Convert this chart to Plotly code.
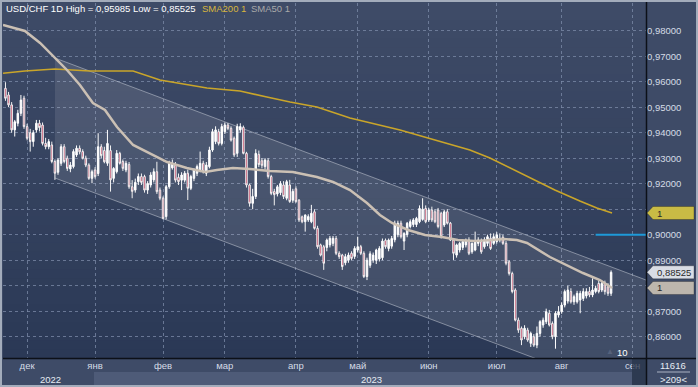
import plotly.graph_objects as go

# ---------------- DATA ----------------
opens = [0.9574,0.9548,0.9509,0.9411,0.9437,0.9476,0.9535,0.9424,0.9400,0.9365,
         0.9411,0.9437,0.9430,0.9358,0.9345,0.9352,0.9287,0.9245,0.9280,0.9345,
         0.9300,0.9258,0.9267,0.9313,0.9339,0.9326,0.9300,0.9273,0.9221,0.9254,
         0.9240,0.9345,0.9330,0.9280,0.9330,0.9221,0.9247,0.9319,0.9287,0.9254,
         0.9275,0.9188,0.9175,0.9208,0.9228,0.9228,0.9175,0.9195,0.9215,0.9247,
         0.9175,0.9143,0.9071,0.9188,0.9262,0.9273,0.9225,0.9214,0.9214,0.9241,
         0.9182,0.9221,0.9241,0.9254,0.9280,0.9241,0.9267,0.9332,0.9365,0.9404,
         0.9358,0.9404,0.9430,0.9417,0.9378,0.9319,0.9411,0.9421,0.9319,0.9195,
         0.9123,0.9150,0.9315,0.9290,0.9267,0.9290,0.9228,0.9169,0.9160,0.9165,
         0.9195,0.9143,0.9195,0.9135,0.9180,0.9135,0.9070,0.9051,0.9058,0.9051,
         0.9090,0.9025,0.8960,0.8953,0.8950,0.8960,0.8966,0.8985,0.8927,0.8920,
         0.8890,0.8900,0.8927,0.8915,0.8940,0.8953,0.8927,0.8836,0.8880,0.8900,
         0.8900,0.8905,0.8910,0.8978,0.8946,0.8955,0.8980,0.9000,0.9045,0.8975,
         0.9000,0.9032,0.9040,0.9040,0.9051,0.9060,0.9103,0.9058,0.9097,0.9090,
         0.9097,0.9084,0.9038,0.9090,0.9045,0.8979,0.8920,0.8940,0.8950,0.8960,
         0.8979,0.8933,0.8940,0.8966,0.8973,0.8953,0.8966,0.8986,0.8966,0.8973,
         0.8980,0.8990,0.8966,0.8894,0.8848,0.8783,0.8665,0.8633,0.8600,0.8626,
         0.8574,0.8600,0.8567,0.8613,0.8646,0.8659,0.8692,0.8652,0.8600,0.8685,
         0.8698,0.8724,0.8740,0.8777,0.8737,0.8737,0.8744,0.8750,0.8760,0.8777,
         0.8764,0.8777,0.8809,0.8783,0.8809,0.8796,0.8770]
highs = [0.9598,0.9560,0.9520,0.9450,0.9490,0.9548,0.9545,0.9435,0.9415,0.9410,
         0.9450,0.9450,0.9440,0.9380,0.9375,0.9365,0.9295,0.9300,0.9355,0.9355,
         0.9310,0.9285,0.9335,0.9350,0.9350,0.9335,0.9310,0.9280,0.9255,0.9265,
         0.9398,0.9355,0.9345,0.9411,0.9350,0.9265,0.9332,0.9325,0.9295,0.9290,
         0.9285,0.9214,0.9220,0.9240,0.9240,0.9235,0.9210,0.9245,0.9260,0.9286,
         0.9185,0.9150,0.9195,0.9290,0.9295,0.9285,0.9240,0.9245,0.9250,0.9255,
         0.9235,0.9260,0.9275,0.9326,0.9290,0.9285,0.9345,0.9415,0.9425,0.9415,
         0.9435,0.9440,0.9438,0.9425,0.9385,0.9435,0.9437,0.9428,0.9325,0.9200,
         0.9180,0.9335,0.9330,0.9300,0.9300,0.9300,0.9235,0.9180,0.9195,0.9210,
         0.9210,0.9215,0.9215,0.9180,0.9190,0.9140,0.9075,0.9080,0.9080,0.9117,
         0.9100,0.9035,0.8965,0.8960,0.8985,0.8995,0.8995,0.8995,0.8935,0.8925,
         0.8925,0.8930,0.8935,0.8955,0.8992,0.8960,0.8935,0.8910,0.8935,0.8930,
         0.8945,0.8955,0.8985,0.8985,0.8985,0.8995,0.9055,0.9055,0.9055,0.9010,
         0.9050,0.9060,0.9065,0.9070,0.9115,0.9143,0.9115,0.9105,0.9110,0.9100,
         0.9105,0.9090,0.9098,0.9100,0.9050,0.8985,0.8965,0.8972,0.8980,0.8985,
         0.8990,0.8970,0.9012,0.8990,0.8985,0.8990,0.9000,0.9005,0.9005,0.9010,
         0.9005,0.9000,0.8975,0.8900,0.8855,0.8790,0.8675,0.8640,0.8645,0.8635,
         0.8620,0.8610,0.8640,0.8665,0.8675,0.8710,0.8705,0.8660,0.8700,0.8720,
         0.8735,0.8785,0.8800,0.8790,0.8765,0.8780,0.8780,0.8790,0.8790,0.8795,
         0.8829,0.8800,0.8820,0.8815,0.8820,0.8810,0.8860]
lows = [0.9525,0.9500,0.9400,0.9385,0.9425,0.9465,0.9415,0.9370,0.9326,0.9345,
        0.9400,0.9405,0.9350,0.9335,0.9335,0.9280,0.9215,0.9235,0.9270,0.9280,
        0.9250,0.9245,0.9260,0.9305,0.9315,0.9295,0.9265,0.9215,0.9202,0.9220,
        0.9230,0.9300,0.9280,0.9270,0.9169,0.9205,0.9240,0.9275,0.9250,0.9245,
        0.9180,0.9143,0.9165,0.9195,0.9195,0.9165,0.9160,0.9185,0.9205,0.9160,
        0.9135,0.9060,0.9060,0.9180,0.9255,0.9205,0.9195,0.9175,0.9205,0.9136,
        0.9175,0.9210,0.9230,0.9245,0.9240,0.9230,0.9260,0.9325,0.9355,0.9350,
        0.9350,0.9395,0.9410,0.9365,0.9305,0.9305,0.9400,0.9315,0.9185,0.9110,
        0.9100,0.9140,0.9265,0.9260,0.9255,0.9220,0.9155,0.9115,0.9150,0.9155,
        0.9140,0.9135,0.9125,0.9125,0.9125,0.9050,0.9045,0.9012,0.9050,0.9045,
        0.9020,0.8945,0.8915,0.8862,0.8935,0.8950,0.8955,0.8920,0.8905,0.8862,
        0.8880,0.8890,0.8900,0.8905,0.8930,0.8920,0.8830,0.8822,0.8870,0.8890,
        0.8885,0.8895,0.8900,0.8945,0.8935,0.8945,0.8970,0.8990,0.8985,0.8940,
        0.8990,0.9025,0.9030,0.9030,0.9045,0.9055,0.9045,0.9050,0.9050,0.9045,
        0.9025,0.8985,0.9030,0.9040,0.8975,0.8901,0.8910,0.8930,0.8940,0.8950,
        0.8920,0.8925,0.8935,0.8955,0.8925,0.8945,0.8955,0.8940,0.8960,0.8965,
        0.8970,0.8960,0.8880,0.8840,0.8770,0.8660,0.8615,0.8567,0.8590,0.8580,
        0.8560,0.8560,0.8555,0.8600,0.8635,0.8650,0.8640,0.8590,0.8553,0.8675,
        0.8690,0.8715,0.8730,0.8730,0.8725,0.8730,0.8692,0.8740,0.8750,0.8755,
        0.8755,0.8770,0.8770,0.8775,0.8765,0.8760,0.8760]
closes = [0.9535,0.9509,0.9411,0.9443,0.9476,0.9528,0.9424,0.9378,0.9365,0.9400,
          0.9437,0.9420,0.9358,0.9345,0.9365,0.9287,0.9241,0.9293,0.9345,0.9287,
          0.9260,0.9273,0.9326,0.9339,0.9325,0.9300,0.9273,0.9221,0.9247,0.9228,
          0.9345,0.9310,0.9286,0.9358,0.9215,0.9260,0.9319,0.9280,0.9260,0.9280,
          0.9188,0.9170,0.9205,0.9228,0.9205,0.9175,0.9201,0.9234,0.9247,0.9169,
          0.9143,0.9064,0.9188,0.9280,0.9280,0.9214,0.9208,0.9234,0.9241,0.9182,
          0.9228,0.9254,0.9267,0.9280,0.9247,0.9273,0.9332,0.9404,0.9411,0.9358,
          0.9424,0.9430,0.9417,0.9371,0.9313,0.9424,0.9424,0.9319,0.9195,0.9123,
          0.9150,0.9319,0.9275,0.9272,0.9293,0.9228,0.9162,0.9157,0.9188,0.9200,
          0.9150,0.9208,0.9130,0.9170,0.9130,0.9058,0.9051,0.9077,0.9071,0.9084,
          0.9025,0.8953,0.8920,0.8888,0.8979,0.8986,0.8986,0.8927,0.8914,0.8875,
          0.8914,0.8920,0.8907,0.8946,0.8953,0.8927,0.8836,0.8900,0.8925,0.8920,
          0.8940,0.8946,0.8975,0.8953,0.8979,0.8985,0.9045,0.9045,0.8992,0.9005,
          0.9045,0.9051,0.9058,0.9064,0.9103,0.9100,0.9051,0.9097,0.9058,0.9051,
          0.9032,0.8992,0.9090,0.9045,0.8979,0.8927,0.8960,0.8966,0.8973,0.8979,
          0.8927,0.8966,0.8973,0.8979,0.8933,0.8979,0.8992,0.8946,0.8992,0.8999,
          0.8986,0.8966,0.8888,0.8848,0.8777,0.8665,0.8626,0.8587,0.8633,0.8587,
          0.8613,0.8567,0.8613,0.8659,0.8665,0.8698,0.8646,0.8600,0.8692,0.8698,
          0.8724,0.8777,0.8783,0.8737,0.8757,0.8770,0.8770,0.8777,0.8777,0.8764,
          0.8783,0.8790,0.8777,0.8809,0.8777,0.8770,0.88525]
bar_index = list(range(len(closes)))

month_ticks = [7, 29, 51, 71, 94, 114, 137, 159, 180, 203]
month_labels = ["дек", "янв", "фев", "мар", "апр", "май", "июн", "июл", "авг", "сен"]
year_labels = ["2022", "2023"]
year_label_pos = [14.5, 118.5]

price_ticks = [0.86, 0.87, 0.88, 0.89, 0.90, 0.91, 0.92, 0.93, 0.94, 0.95, 0.96, 0.97, 0.98]
hidden_price_ticks = [0.88, 0.91]   # covered by the value tags on the right

sma200_x = [-0.8, 6.3, 16.0, 27.3, 41.3, 50.0, 65.2, 75.9, 84.6, 92.1, 100.8, 106.0,
            111.5, 127.7, 140.6, 150.3, 156.8, 163.3, 169.7, 177.8, 185.9, 191.4, 196.3]
sma200_y = [0.96330, 0.96420, 0.96498, 0.96420, 0.96420, 0.96067, 0.95753, 0.95635,
            0.95400, 0.95204, 0.95008, 0.94812, 0.94576, 0.94106, 0.93675, 0.93322,
            0.93008, 0.92616, 0.92224, 0.91753, 0.91322, 0.91047, 0.90851]

sma50_x = [-0.8, 6.3, 11.2, 16.0, 19.9, 24.1, 28.3, 32.2, 36.1, 41.3, 45.8, 52.3, 58.7,
           64.6, 68.4, 73.6, 79.1, 85.6, 93.0, 100.8, 106.0, 111.5, 117.0, 121.2, 125.1,
           130.3, 135.8, 141.3, 146.4, 151.9, 157.4, 161.0, 165.5, 168.8, 176.2, 181.7,
           186.9, 192.4, 196.3]
sma50_y = [0.98224, 0.97988, 0.97518, 0.96929, 0.96459, 0.95871, 0.95165, 0.94890,
           0.94224, 0.93518, 0.93243, 0.92851, 0.92616, 0.92459, 0.92537, 0.92616,
           0.92576, 0.92498, 0.92459, 0.92263, 0.92067, 0.91753, 0.91243, 0.90773,
           0.90459, 0.90184, 0.89988, 0.89910, 0.89792, 0.89753, 0.89792, 0.89831,
           0.89792, 0.89675, 0.89125, 0.88812, 0.88498, 0.88224, 0.87910]

channel_x = [16.0, 207.3]
channel_upper = [0.96929, 0.88224]
channel_lower = [0.92224, 0.83519]

alert_level = 0.90
alert_start = 191.0

X_RANGE = [-0.8, 207.3]
Y_RANGE = [0.85165, 0.99086]

# ---------------- LAYOUT CONSTANTS ----------------
W, H = 698, 387
ML, MR, MT, MB = 3, 52, 3, 29
PW, PH = W - ML - MR, H - MT - MB
FONT = "Liberation Sans, Arial, sans-serif"


def px_x(px):
    return (px - ML) / PW


def px_y(py):
    return (H - MB - py) / PH


def price_y(p):
    return (p - Y_RANGE[0]) / (Y_RANGE[1] - Y_RANGE[0])


fig = go.Figure()

# candles
fig.add_trace(go.Candlestick(
    x=bar_index, open=opens, high=highs, low=lows, close=closes,
    increasing=dict(line=dict(color="#ffffff", width=1), fillcolor="#ffffff"),
    decreasing=dict(line=dict(color="#f2f2f2", width=1), fillcolor="#b8284c"),
    whiskerwidth=0, hoverinfo="skip", showlegend=False,
))

# SMA lines
fig.add_trace(go.Scatter(x=sma200_x, y=sma200_y, mode="lines",
                         line=dict(color="#c9a52a", width=1.6), hoverinfo="skip",
                         showlegend=False))
fig.add_trace(go.Scatter(x=sma50_x, y=sma50_y, mode="lines",
                         line=dict(color="#cbc0b4", width=2.5), hoverinfo="skip",
                         showlegend=False))

shapes = []
# background gradient of the plot area
N = 40
top = (62, 75, 103)
bot = (43, 57, 86)
for k in range(N):
    t = k / (N - 1)
    c = tuple(int(round(bot[j] + (top[j] - bot[j]) * t)) for j in range(3))
    shapes.append(dict(type="rect", xref="paper", yref="paper", x0=0, x1=1,
                       y0=k / N, y1=(k + 1) / N + 0.002, layer="below",
                       line=dict(width=0), fillcolor="rgb(%d,%d,%d)" % c))

# trend channel
path = "M %f,%f L %f,%f L %f,%f L %f,%f Z" % (
    channel_x[0], channel_upper[0], channel_x[1], channel_upper[1],
    channel_x[1], channel_lower[1], channel_x[0], channel_lower[0])
shapes.append(dict(type="path", xref="x", yref="y", path=path, layer="between",
                   fillcolor="rgba(255,255,255,0.10)", line=dict(width=0)))
for edge in (channel_upper, channel_lower):
    shapes.append(dict(type="line", xref="x", yref="y", x0=channel_x[0], x1=channel_x[1],
                       y0=edge[0], y1=edge[1], layer="between",
                       line=dict(color="rgba(195,200,212,0.55)", width=1)))

# alert level line
shapes.append(dict(type="line", xref="x", yref="y", x0=alert_start, x1=X_RANGE[1],
                   y0=alert_level, y1=alert_level, layer="above",
                   line=dict(color="#1e9ad8", width=2)))

# bottom axis bands
shapes.append(dict(type="rect", xref="paper", yref="paper", x0=px_x(94), x1=px_x(632),
                   y0=px_y(386), y1=px_y(372), line=dict(width=0), fillcolor="#4e5b78",
                   layer="below"))
shapes.append(dict(type="rect", xref="paper", yref="paper", x0=px_x(632), x1=px_x(646),
                   y0=px_y(386), y1=px_y(359), line=dict(width=0),
                   fillcolor="rgba(40,52,74,0.75)", layer="above"))
# separators
shapes.append(dict(type="line", xref="paper", yref="paper", x0=px_x(3), x1=px_x(698),
                   y0=px_y(358.5), y1=px_y(358.5), line=dict(color="#0c1018", width=1.5),
                   layer="above"))
shapes.append(dict(type="line", xref="paper", yref="paper", x0=px_x(646.5), x1=px_x(646.5),
                   y0=px_y(386), y1=px_y(2), line=dict(color="#0c1018", width=1.5),
                   layer="above"))
shapes.append(dict(type="line", xref="paper", yref="paper", x0=px_x(657), x1=px_x(690),
                   y0=px_y(372), y1=px_y(372), line=dict(color="#aab3c4", width=1),
                   layer="above"))
# outer frame
shapes.append(dict(type="rect", xref="paper", yref="paper", x0=px_x(1), x1=px_x(697),
                   y0=px_y(386), y1=px_y(1), line=dict(color="#a3acbb", width=2),
                   layer="above"))


def tag(price, fill):
    yc = price_y(price)
    hh = 6.5 / PH
    xt, x1, x2 = px_x(647), px_x(653), px_x(694)
    return dict(type="path", xref="paper", yref="paper", layer="above",
                path="M %f,%f L %f,%f L %f,%f L %f,%f L %f,%f Z" % (
                    xt, yc, x1, yc + hh, x2, yc + hh, x2, yc - hh, x1, yc - hh),
                fillcolor=fill, line=dict(color="rgba(0,0,0,0.25)", width=1))


shapes.append(tag(sma200_y[-1], "#c9bb45"))
shapes.append(tag(closes[-1], "#d9dde5"))
shapes.append(tag(sma50_y[-1], "#bdb6ad"))

ann = []
ann.append(dict(text="USD/CHF 1D High = 0,95985 Low = 0,85525", x=px_x(4), y=px_y(8.5),
                xref="paper", yref="paper", xanchor="left", yanchor="middle",
                showarrow=False, font=dict(family=FONT, size=9.5, color="#ffffff")))
ann.append(dict(text="SMA200 1", x=px_x(200), y=px_y(8.5), xref="paper", yref="paper",
                xanchor="left", yanchor="middle", showarrow=False,
                font=dict(family=FONT, size=9.5, color="#d8b63c")))
ann.append(dict(text="SMA50 1", x=px_x(249), y=px_y(8.5), xref="paper", yref="paper",
                xanchor="left", yanchor="middle", showarrow=False,
                font=dict(family=FONT, size=9.5, color="#a9a9a9")))
for lab, pos in zip(year_labels, year_label_pos):
    ann.append(dict(text=lab, x=pos, y=px_y(379.5), xref="x", yref="paper",
                    xanchor="center", yanchor="middle", showarrow=False,
                    font=dict(family=FONT, size=9.5, color="#e6ebf3")))
ann.append(dict(text="1", x=px_x(655), y=price_y(sma200_y[-1]), xref="paper", yref="paper",
                xanchor="left", yanchor="middle", showarrow=False,
                font=dict(family=FONT, size=9.5, color="#2a2a2a")))
ann.append(dict(text="0,88525", x=px_x(655), y=price_y(closes[-1]), xref="paper",
                yref="paper", xanchor="left", yanchor="middle", showarrow=False,
                font=dict(family=FONT, size=9.5, color="#2a2a2a")))
ann.append(dict(text="1", x=px_x(655), y=price_y(sma50_y[-1]), xref="paper", yref="paper",
                xanchor="left", yanchor="middle", showarrow=False,
                font=dict(family=FONT, size=9.5, color="#2a2a2a")))
ann.append(dict(text="11616", x=px_x(673), y=px_y(365), xref="paper", yref="paper",
                xanchor="center", yanchor="middle", showarrow=False,
                font=dict(family=FONT, size=9.5, color="#e6ebf3")))
ann.append(dict(text="&gt;209&lt;", x=px_x(673), y=px_y(379), xref="paper", yref="paper",
                xanchor="center", yanchor="middle", showarrow=False,
                font=dict(family=FONT, size=9.5, color="#e6ebf3")))
ann.append(dict(text="10", x=px_x(622), y=px_y(352), xref="paper", yref="paper",
                xanchor="center", yanchor="middle", showarrow=False,
                font=dict(family=FONT, size=9.5, color="#ffffff")))
ann.append(dict(text="▲", x=px_x(610), y=px_y(351), xref="paper", yref="paper",
                xanchor="center", yanchor="middle", showarrow=False,
                font=dict(family=FONT, size=8, color="#56627c")))

price_text = ["" if any(abs(v - h) < 1e-9 for h in hidden_price_ticks)
              else ("%.5f" % v).replace(".", ",") for v in price_ticks]

grid_col = "rgba(125,140,170,0.75)"
fig.update_layout(
    width=W, height=H,
    margin=dict(l=ML, r=MR, t=MT, b=MB, pad=0, autoexpand=False),
    paper_bgcolor="#3e4b67", plot_bgcolor="#3a4763",
    separators=", ",
    shapes=shapes, annotations=ann,
    showlegend=False, hovermode=False, dragmode=False,
    font=dict(family=FONT, size=9.5, color="#d5dbe6"),
    xaxis=dict(range=X_RANGE, tickvals=month_ticks, ticktext=month_labels,
               showgrid=True, gridcolor=grid_col, griddash="dot", gridwidth=1,
               zeroline=False, showline=False, ticks="", rangeslider=dict(visible=False),
               tickfont=dict(family=FONT, size=9.5, color="#d5dbe6"), fixedrange=True,
               automargin=False),
    yaxis=dict(range=Y_RANGE, side="right", tickvals=price_ticks, ticktext=price_text,
               showgrid=True, gridcolor=grid_col, griddash="dot", gridwidth=1,
               zeroline=False, showline=False, ticks="",
               tickfont=dict(family=FONT, size=9.5, color="#d5dbe6"), fixedrange=True,
               automargin=False),
)

fig.write_html("out.html", config={"displayModeBar": False, "staticPlot": True},
               post_script="document.body.style.margin='0';document.body.style.overflow='hidden';")
